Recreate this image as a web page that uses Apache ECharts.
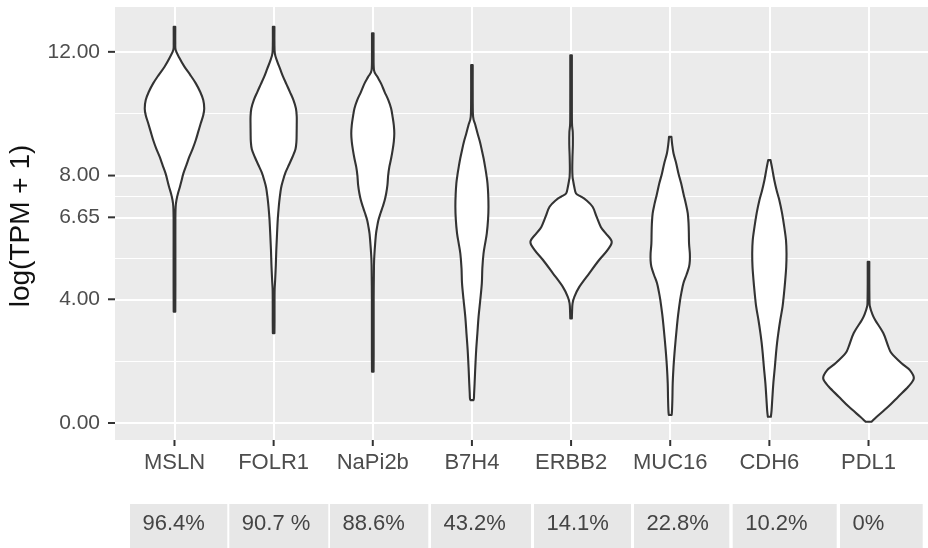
<!DOCTYPE html>
<html>
<head>
<meta charset="utf-8">
<script src="https://cdn.jsdelivr.net/npm/echarts@6/dist/echarts.min.js"></script>
<style>
  html, body { margin: 0; padding: 0; background: #fff; }
  #chart { width: 928px; height: 548px; }
</style>
</head>
<body>
<div id="chart"></div>
<script>
// Genes shown along the x axis
const categories = ['MSLN', 'FOLR1', 'NaPi2b', 'B7H4', 'ERBB2', 'MUC16', 'CDH6', 'PDL1'];

// Share of positive samples per gene (table row under the plot)
const positiveShare = ['96.4%', '90.7 %', '88.6%', '43.2%', '14.1%', '22.8%', '10.2%', '0%'];

// y-axis ticks (major) and the minor grid between them
const yTicks = [0, 4, 6.65, 8, 12];
const yMinorTicks = [2, 5.325, 7.325, 10];

// Violin outlines: expression level log(TPM + 1) and half-width of the density (in category units)
const MSLN_Y = [12.81, 12.3, 12.06, 11.8, 11.52, 11.25, 10.98, 10.7, 10.44, 10.17, 9.95, 9.69, 9.42, 9.15, 8.88, 8.61, 8.34, 8.07, 7.85, 7.64, 7.42, 7.21, 7.0, 6.6, 5.5, 4.5, 3.6];
const MSLN_W = [0.008, 0.008, 0.012, 0.05, 0.10, 0.16, 0.215, 0.26, 0.29, 0.30, 0.29, 0.265, 0.24, 0.215, 0.185, 0.15, 0.12, 0.09, 0.072, 0.055, 0.035, 0.02, 0.012, 0.009, 0.009, 0.009, 0.008];

const FOLR1_Y = [12.81, 12.3, 11.95, 11.7, 11.45, 11.2, 10.95, 10.7, 10.44, 10.17, 9.9, 9.63, 9.36, 9.1, 8.85, 8.6, 8.35, 8.1, 7.85, 7.6, 7.3, 7.0, 6.6, 6.1, 5.6, 5.1, 4.6, 4.3, 3.8, 3.3, 2.9];
const FOLR1_W = [0.008, 0.008, 0.012, 0.035, 0.065, 0.095, 0.13, 0.165, 0.2, 0.225, 0.233, 0.233, 0.232, 0.23, 0.22, 0.19, 0.155, 0.12, 0.095, 0.075, 0.062, 0.052, 0.042, 0.034, 0.027, 0.022, 0.015, 0.01, 0.009, 0.009, 0.008];

const NAPI2B_Y = [12.6, 12.0, 11.41, 11.2, 10.98, 10.7, 10.44, 10.17, 9.9, 9.63, 9.36, 9.1, 8.82, 8.55, 8.28, 8.0, 7.7, 7.42, 7.2, 6.99, 6.78, 6.56, 6.35, 6.13, 5.8, 5.48, 5.1, 4.0, 3.0, 2.2, 1.66];
const NAPI2B_W = [0.008, 0.008, 0.012, 0.045, 0.083, 0.12, 0.157, 0.185, 0.20, 0.212, 0.217, 0.212, 0.20, 0.185, 0.167, 0.155, 0.148, 0.135, 0.12, 0.10, 0.078, 0.057, 0.044, 0.033, 0.024, 0.017, 0.012, 0.009, 0.009, 0.009, 0.008];

const B7H4_Y = [11.57, 10.5, 9.9, 9.63, 9.36, 9.1, 8.82, 8.55, 8.28, 8.0, 7.75, 7.4, 6.99, 6.6, 6.13, 5.8, 5.48, 5.0, 4.52, 4.0, 3.44, 2.9, 2.36, 1.8, 1.28, 0.95, 0.8, 0.74];
const B7H4_W = [0.008, 0.008, 0.012, 0.035, 0.057, 0.08, 0.10, 0.118, 0.133, 0.147, 0.157, 0.164, 0.167, 0.163, 0.15, 0.133, 0.117, 0.105, 0.10, 0.085, 0.067, 0.055, 0.043, 0.034, 0.027, 0.022, 0.02, 0.015];

const ERBB2_Y = [11.89, 10.5, 9.7, 9.4, 9.0, 8.6, 8.2, 7.95, 7.85, 7.64, 7.42, 7.32, 7.21, 6.99, 6.67, 6.34, 6.13, 5.86, 5.59, 5.27, 4.84, 4.4, 4.08, 3.87, 3.6, 3.38];
const ERBB2_W = [0.008, 0.008, 0.009, 0.017, 0.018, 0.014, 0.012, 0.015, 0.02, 0.032, 0.05, 0.10, 0.15, 0.217, 0.257, 0.30, 0.35, 0.41, 0.367, 0.283, 0.183, 0.083, 0.033, 0.015, 0.01, 0.008];

const MUC16_Y = [9.25, 9.0, 8.72, 8.4, 8.07, 7.75, 7.42, 7.1, 6.78, 6.45, 6.13, 5.8, 5.48, 5.25, 5.05, 4.8, 4.52, 4.25, 3.98, 3.5, 3.11, 2.7, 2.25, 1.8, 1.28, 0.8, 0.4, 0.26];
const MUC16_W = [0.012, 0.02, 0.033, 0.06, 0.083, 0.11, 0.133, 0.157, 0.177, 0.185, 0.188, 0.19, 0.198, 0.198, 0.19, 0.165, 0.133, 0.115, 0.10, 0.08, 0.067, 0.055, 0.043, 0.033, 0.025, 0.022, 0.018, 0.014];

const CDH6_Y = [8.5, 8.2, 7.85, 7.5, 7.21, 6.8, 6.34, 5.9, 5.48, 5.05, 4.62, 4.2, 3.76, 3.33, 2.9, 2.6, 2.25, 1.8, 1.28, 0.8, 0.4, 0.2];
const CDH6_W = [0.012, 0.03, 0.05, 0.075, 0.10, 0.127, 0.15, 0.168, 0.173, 0.17, 0.16, 0.148, 0.133, 0.11, 0.09, 0.078, 0.067, 0.055, 0.04, 0.03, 0.022, 0.015];

const PDL1_Y = [5.21, 4.5, 3.9, 3.76, 3.55, 3.33, 2.9, 2.47, 2.25, 1.93, 1.71, 1.44, 1.17, 0.85, 0.53, 0.2, 0.07, 0.04];
const PDL1_W = [0.008, 0.008, 0.01, 0.015, 0.035, 0.067, 0.15, 0.20, 0.233, 0.333, 0.417, 0.457, 0.40, 0.30, 0.20, 0.083, 0.04, 0.03];

const violins = [
  [MSLN_Y, MSLN_W], [FOLR1_Y, FOLR1_W], [NAPI2B_Y, NAPI2B_W], [B7H4_Y, B7H4_W],
  [ERBB2_Y, ERBB2_W], [MUC16_Y, MUC16_W], [CDH6_Y, CDH6_W], [PDL1_Y, PDL1_W]
];

// Layout of the percentage table: left/right edge of each cell
const TABLE_CELLS = [[130, 227.3], [229.3, 328.3], [330, 428.3], [431, 531], [534, 631], [634, 729.3], [732.7, 836.7], [840, 922.7]];

const X_MIN = -0.6, X_MAX = 7.6;
const Y_MIN = -0.55, Y_MAX = 13.45;

const FONT = '"Liberation Sans", Arial, Helvetica, sans-serif';
const chart = echarts.init(document.getElementById('chart'), null, { renderer: 'canvas' });

// Catmull-Rom curve through a list of pixel points, as SVG path commands
function curveThrough(pts, moveFirst) {
  let d = (moveFirst ? 'M' : 'L') + pts[0][0].toFixed(2) + ' ' + pts[0][1].toFixed(2);
  for (let k = 0; k < pts.length - 1; k++) {
    const p0 = pts[Math.max(k - 1, 0)];
    const p1 = pts[k];
    const p2 = pts[k + 1];
    const p3 = pts[Math.min(k + 2, pts.length - 1)];
    const c1x = p1[0] + (p2[0] - p0[0]) / 6, c1y = p1[1] + (p2[1] - p0[1]) / 6;
    const c2x = p2[0] - (p3[0] - p1[0]) / 6, c2y = p2[1] - (p3[1] - p1[1]) / 6;
    d += ' C' + c1x.toFixed(2) + ' ' + c1y.toFixed(2) + ' ' + c2x.toFixed(2) + ' ' + c2y.toFixed(2) +
         ' ' + p2[0].toFixed(2) + ' ' + p2[1].toFixed(2);
  }
  return d;
}

const tableGraphics = [];
TABLE_CELLS.forEach(function (cell, i) {
  tableGraphics.push({
    type: 'rect',
    shape: { x: cell[0], y: 504, width: cell[1] - cell[0], height: 50 },
    style: { fill: '#E7E7E7' },
    silent: true
  });
  tableGraphics.push({
    type: 'text',
    x: cell[0] + 12.5,
    y: 523.5,
    style: {
      text: positiveShare[i],
      font: '22px ' + FONT,
      fill: '#444444',
      align: 'left',
      verticalAlign: 'middle'
    },
    silent: true
  });
});

const titleGraphic = {
  type: 'text',
  x: 21.5,
  y: 226,
  rotation: Math.PI / 2,
  style: {
    text: 'log(TPM + 1)',
    font: '28px ' + FONT,
    fill: '#111111',
    align: 'center',
    verticalAlign: 'middle'
  },
  silent: true
};

const option = {
  animation: false,
  backgroundColor: '#ffffff',
  grid: {
    left: 115, top: 7, width: 820, height: 433,
    show: true, backgroundColor: '#EBEBEB', borderWidth: 0
  },
  xAxis: {
    type: 'value',
    min: X_MIN,
    max: X_MAX,
    position: 'bottom',
    axisLine: { show: false, onZero: false },
    axisTick: { show: false, customValues: categories.map(function (c, i) { return i; }) },
    axisLabel: {
      customValues: categories.map(function (c, i) { return i; }),
      formatter: function (v) { return categories[Math.round(v)] || ''; },
      margin: 12,
      color: '#4D4D4D',
      fontSize: 22,
      fontFamily: FONT
    },
    splitLine: { show: true, lineStyle: { color: '#ffffff', width: 2 } }
  },
  yAxis: [
    {
      type: 'value',
      min: Y_MIN,
      max: Y_MAX,
      position: 'left',
      axisLine: { show: false, onZero: false },
      axisTick: { show: false, customValues: yTicks },
      axisLabel: {
        customValues: yTicks,
        formatter: function (v) { return v.toFixed(2); },
        margin: 15,
        color: '#4D4D4D',
        fontSize: 21,
        fontFamily: FONT
      },
      splitLine: { show: true, lineStyle: { color: '#ffffff', width: 2.2 } }
    },
    {
      type: 'value',
      min: Y_MIN,
      max: Y_MAX,
      position: 'right',
      axisLine: { show: false, onZero: false },
      axisTick: { show: false, customValues: yMinorTicks },
      axisLabel: { show: false, customValues: yMinorTicks },
      splitLine: { show: true, lineStyle: { color: '#ffffff', width: 1.1 } }
    }
  ],
  graphic: [titleGraphic].concat(tableGraphics),
  series: [
    {
      type: 'custom',
      name: 'violin',
      xAxisIndex: 0,
      yAxisIndex: 0,
      data: categories.map(function (c, i) { return [i, 0]; }),
      renderItem: function (params, api) {
        const idx = api.value(0);
        const ys = violins[idx][0];
        const ws = violins[idx][1];
        const right = ys.map(function (y, k) { return api.coord([idx + ws[k], y]); });
        const left = ys.map(function (y, k) { return api.coord([idx - ws[k], y]); }).reverse();
        const d = curveThrough(right, true) + ' ' + curveThrough(left, false) + ' Z';
        return {
          type: 'path',
          shape: { pathData: d },
          style: { fill: '#ffffff', stroke: '#333333', lineWidth: 2.1, lineJoin: 'round' }
        };
      },
      z: 3
    }
  ]
};

chart.setOption(option);

// Outward tick marks for both axes (small filled bars), positioned through the axis scales
const tickGraphics = [];
yTicks.forEach(function (v) {
  const p = chart.convertToPixel({ xAxisIndex: 0, yAxisIndex: 0 }, [X_MIN, v]);
  tickGraphics.push({ type: 'rect', silent: true, z: 10,
    shape: { x: p[0] - 7, y: p[1] - 1, width: 7, height: 2 }, style: { fill: '#333333' } });
});
categories.forEach(function (c, i) {
  const p = chart.convertToPixel({ xAxisIndex: 0, yAxisIndex: 0 }, [i, Y_MIN]);
  tickGraphics.push({ type: 'rect', silent: true, z: 10,
    shape: { x: p[0] - 1, y: p[1], width: 2, height: 6 }, style: { fill: '#333333' } });
});
chart.setOption({ graphic: [titleGraphic].concat(tableGraphics, tickGraphics) });
</script>
</body>
</html>
